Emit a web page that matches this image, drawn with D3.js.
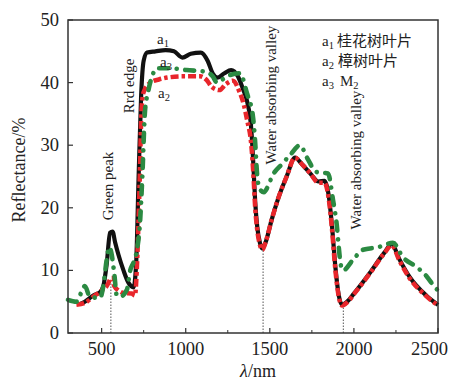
<!DOCTYPE html>
<html>
<head>
<meta charset="utf-8">
<script src="https://cdn.jsdelivr.net/npm/d3@7/dist/d3.min.js"></script>
<style>
  body { margin: 0; background: #fff; }
  text { font-family: "Liberation Serif", "DejaVu Serif", serif; fill: #222; }
  .cjk { font-family: "Noto Sans CJK SC", sans-serif; }
</style>
</head>
<body>
<svg id="chart" width="451" height="384"></svg>
<script>
// a1 桂花树叶片 (black)
const a1Wl = [370, 400, 450, 490, 510, 530, 550, 565, 580, 600, 630, 660, 690, 705, 720, 735, 750, 770, 820, 880, 930, 980, 1030, 1090, 1130, 1160, 1190, 1230, 1270, 1310, 1340, 1365, 1390, 1402, 1413, 1425, 1442, 1455, 1475, 1510, 1550, 1600, 1650, 1690, 1740, 1790, 1825, 1850, 1870, 1890, 1910, 1930, 1960, 2000, 2100, 2180, 2225, 2270, 2330, 2430, 2500];
const a1Val = [4.6, 5.0, 6.0, 6.5, 7.5, 11, 16, 16.2, 14.5, 12.5, 10, 8, 7.3, 11, 25, 38, 43.5, 44.8, 45, 45.2, 45, 44, 44.6, 44.8, 43.5, 41.5, 40.8, 41.5, 42, 41, 39, 37, 32.5, 27, 21, 17, 14.3, 13.5, 14.5, 18, 21.5, 25, 28, 27, 25.5, 24.2, 24.3, 22, 17, 10.5, 6, 4.5, 5, 6.3, 9.8, 12.8, 14.2, 11.8, 9, 6, 4.5];

// a2 樟树叶片 (red)
const a2Wl = [350, 400, 450, 500, 530, 560, 575, 600, 630, 680, 698, 712, 725, 738, 750, 790, 840, 890, 985, 1085, 1125, 1155, 1200, 1240, 1280, 1320, 1345, 1365, 1390, 1402, 1413, 1425, 1442, 1455, 1475, 1510, 1550, 1600, 1650, 1690, 1740, 1790, 1825, 1850, 1870, 1890, 1910, 1930, 1960, 2000, 2100, 2180, 2225, 2270, 2330, 2430, 2500];
const a2Val = [4.5, 4.8, 5.8, 6.8, 7.5, 8.8, 7.5, 6.8, 6.4, 6.3, 6, 12, 23, 36, 38.5, 40, 40.5, 40.8, 41, 41, 40.4, 39.3, 38.8, 39.8, 40.3, 38.5, 36.5, 34, 30, 25.5, 20, 16.5, 14, 13.3, 14.5, 18, 21.5, 25, 28, 27, 25.5, 24, 24, 21.5, 16.5, 10, 5.8, 4.4, 4.9, 6.2, 9.7, 12.7, 14, 11.6, 8.8, 5.9, 4.4];

// a3 M2 (green)
const a3Wl = [300, 350, 400, 430, 490, 510, 530, 545, 560, 575, 590, 610, 650, 670, 690, 710, 728, 742, 758, 776, 800, 830, 906, 1005, 1126, 1160, 1186, 1245, 1323, 1364, 1400, 1412, 1424, 1440, 1465, 1490, 1513, 1573, 1620, 1680, 1721, 1780, 1846, 1876, 1899, 1910, 1920, 1935, 1995, 2054, 2143, 2232, 2292, 2375, 2434, 2482, 2500];
const a3Val = [5.3, 5.0, 7.5, 5.8, 5.6, 7.5, 11.7, 13.7, 12.5, 9.5, 6, 5.8, 6.9, 10, 11.3, 13.3, 17.6, 25, 35.5, 38.5, 41, 42.3, 42.3, 42, 41.7, 41, 40, 41, 41.5, 38.3, 34.5, 30.8, 25.5, 23, 22.5, 23.5, 25, 27, 28.4, 30, 28, 25.7, 25.5, 21.2, 17, 13.7, 11.2, 10, 11.7, 13.3, 13.7, 14.4, 12.1, 10.5, 9, 7.3, 6.8];

const xTicks = [500, 1000, 1500, 2000, 2500];
const xMinor = [750, 1250, 1750, 2250];
const yTicks = [0, 10, 20, 30, 40, 50];

// marker lines: wavelength, reflectance where the dotted line stops
const markWl = [555, 1460, 1937];
const markTop = [8, 13.8, 4.6];

const svg = d3.select("#chart");
const L = 68, R = 438, T = 20, B = 333;

const x = d3.scaleLinear().domain([300, 2500]).range([L, R]);
const y = d3.scaleLinear().domain([0, 50]).range([B, T]);

// dotted marker lines
markWl.forEach((w, i) => {
  svg.append("line")
    .attr("x1", x(w)).attr("x2", x(w))
    .attr("y1", B).attr("y2", y(markTop[i]))
    .attr("stroke", "#555").attr("stroke-width", 1)
    .attr("stroke-dasharray", "1.5,1.5");
});

const line = d3.line()
  .x((d) => x(d[0]))
  .y((d) => y(d[1]))
  .curve(d3.curveMonotoneX);

const zipped = (wl, val) => wl.map((w, i) => [w, val[i]]);

// black solid
svg.append("path")
  .datum(zipped(a1Wl, a1Val))
  .attr("d", line)
  .attr("fill", "none")
  .attr("stroke", "#111")
  .attr("stroke-width", 4.2)
  .attr("stroke-linejoin", "round");

// red dash-dot
svg.append("path")
  .datum(zipped(a2Wl, a2Val))
  .attr("d", line)
  .attr("fill", "none")
  .attr("stroke", "#e8262b")
  .attr("stroke-width", 4.5)
  .attr("stroke-linecap", "butt")
  .attr("stroke-dasharray", "8,3,3.5,3");

// green dash-dot
svg.append("path")
  .datum(zipped(a3Wl, a3Val))
  .attr("d", line)
  .attr("fill", "none")
  .attr("stroke", "#2b8a42")
  .attr("stroke-width", 4.6)
  .attr("stroke-linecap", "round")
  .attr("stroke-dasharray", "9,8.5,0.1,8.5");

// frame
svg.append("rect")
  .attr("x", L).attr("y", T)
  .attr("width", R - L).attr("height", B - T)
  .attr("fill", "none").attr("stroke", "#333").attr("stroke-width", 1.5);

// x ticks (inward)
xTicks.forEach((t, i) => {
  svg.append("line")
    .attr("x1", x(t)).attr("x2", x(t)).attr("y1", B).attr("y2", B - 5)
    .attr("stroke", "#333").attr("stroke-width", 1.2);
  const last = i === xTicks.length - 1;
  svg.append("text")
    .attr("x", last ? 448 : x(t)).attr("y", B + 22)
    .attr("text-anchor", last ? "end" : "middle").attr("font-size", 18.5)
    .text(t);
});
xMinor.forEach((t) => {
  svg.append("line")
    .attr("x1", x(t)).attr("x2", x(t)).attr("y1", B).attr("y2", B - 3)
    .attr("stroke", "#333").attr("stroke-width", 1);
});

// y ticks (inward)
yTicks.forEach((t) => {
  svg.append("line")
    .attr("x1", L).attr("x2", L + 5).attr("y1", y(t)).attr("y2", y(t))
    .attr("stroke", "#333").attr("stroke-width", 1.2);
  svg.append("text")
    .attr("x", L - 9).attr("y", y(t) + 6)
    .attr("text-anchor", "end").attr("font-size", 18.5)
    .text(t);
});

// axis titles
svg.append("text")
  .attr("transform", "translate(25,170) rotate(-90)")
  .attr("text-anchor", "middle").attr("font-size", 18)
  .text("Reflectance/%");

const xt = svg.append("text")
  .attr("x", 258).attr("y", 377)
  .attr("text-anchor", "middle").attr("font-size", 18);
xt.append("tspan").attr("font-style", "italic").text("λ");
xt.append("tspan").text("/nm");

// rotated annotations
const vLabel = (cx, cy, txt) =>
  svg.append("text")
    .attr("transform", `translate(${cx},${cy}) rotate(-90)`)
    .attr("text-anchor", "middle").attr("font-size", 15)
    .text(txt);
vLabel(113, 186, "Green peak");
vLabel(134, 86, "Rrd edge");
vLabel(276, 95, "Water absorbing valley");
vLabel(361, 160, "Water absorbing valley");

// curve labels with subscripts
const subLabel = (px, py, main, sub, size) => {
  const t = svg.append("text").attr("x", px).attr("y", py).attr("font-size", size);
  t.append("tspan").text(main);
  t.append("tspan").attr("dy", 3).attr("font-size", size * 0.7).text(sub);
  return t;
};
subLabel(157, 44, "a", "1", 15);
subLabel(160, 67, "a", "3", 15);
subLabel(158, 98, "a", "2", 15);

// legend
const legendItems = [["1", "桂花树叶片"], ["2", "樟树叶片"]];
legendItems.forEach((it, i) => {
  const yy = 46 + i * 20;
  subLabel(322, yy, "a", it[0], 15);
  svg.append("text").attr("class", "cjk")
    .attr("x", 337 + i).attr("y", yy).attr("font-size", 15)
    .text(it[1]);
});
subLabel(322, 86, "a", "3", 15);
const m2 = svg.append("text").attr("x", 340).attr("y", 86).attr("font-size", 15);
m2.append("tspan").text("M");
m2.append("tspan").attr("dy", 3).attr("font-size", 10.5).text("2");
</script>
</body>
</html>
